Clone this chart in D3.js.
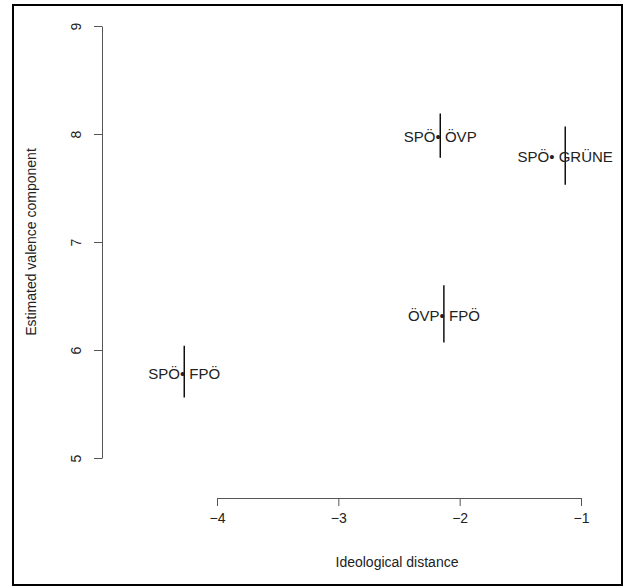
<html>
<head>
    <meta charset="utf-8">
    <title>Valence vs ideological distance</title>
    <style>
        body { margin: 0; background: #fff; }
        text { font-family: "Liberation Sans", Arial, sans-serif; }
    </style>
</head>
<body>

<script src="https://cdn.jsdelivr.net/npm/d3@7"></script>
<script>
    var width = 633;
    var height = 587;

    // party pairs, point estimates and interval ends
    var pairs = ["SPÖ• FPÖ", "ÖVP• FPÖ", "SPÖ• ÖVP", "SPÖ• GRÜNE"];
    var distance = [-4.27, -2.13, -2.16, -1.13];
    var valence = [5.78, 6.32, 7.97, 7.79];
    var lower = [5.56, 6.07, 7.78, 7.53];
    var upper = [6.04, 6.60, 8.19, 8.07];

    var xTicks = [-4, -3, -2, -1];
    var yTicks = [5, 6, 7, 8, 9];

    var svg = d3.select('body')
            .append('svg')
            .attr('width', width)
            .attr('height', height);

    // outer frame
    svg.append('rect')
            .attr('x', 13).attr('y', 5)
            .attr('width', 609).attr('height', 580)
            .attr('fill', 'none')
            .attr('stroke', '#000')
            .attr('stroke-width', 2);

    var x = d3.scaleLinear().domain([-4, -1]).range([217, 581]);
    var y = d3.scaleLinear().domain([5, 9]).range([458, 26]);

    var xAxis = svg.append('g')
            .attr('transform', 'translate(0,498)')
            .call(d3.axisBottom(x).tickValues(xTicks).tickSize(8).tickSizeOuter(0)
                .tickFormat(function (d) { return '\u2212' + Math.abs(d); }));
    xAxis.selectAll('text').attr('y', 20).attr('dy', '0.35em');

    var yAxis = svg.append('g')
            .attr('transform', 'translate(102,0)')
            .call(d3.axisLeft(y).tickValues(yTicks).tickSize(8).tickSizeOuter(0)
                .tickFormat(d3.format('d')));
    yAxis.selectAll('text')
            .attr('x', null).attr('dy', '0.35em')
            .attr('text-anchor', 'middle')
            .attr('transform', 'translate(-26,0) rotate(-90)');

    svg.selectAll('.domain, .tick line').attr('stroke', '#555');
    svg.selectAll('.tick text').attr('fill', '#222').style('font-size', '14px')
            .style('font-family', '"Liberation Sans", Arial, sans-serif');

    // axis titles
    svg.append('text')
            .attr('x', 397).attr('y', 562)
            .attr('dy', '0.35em')
            .attr('text-anchor', 'middle')
            .attr('fill', '#222')
            .style('font-size', '14px')
            .text('Ideological distance');

    svg.append('text')
            .attr('transform', 'translate(31,242) rotate(-90)')
            .attr('dy', '0.35em')
            .attr('text-anchor', 'middle')
            .attr('fill', '#222')
            .style('font-size', '14px')
            .text('Estimated valence component');

    // interval lines
    svg.selectAll('line.ci')
            .data(pairs)
            .enter()
            .append('line')
            .attr('class', 'ci')
            .attr('x1', function (d, i) { return x(distance[i]); })
            .attr('x2', function (d, i) { return x(distance[i]); })
            .attr('y1', function (d, i) { return y(lower[i]); })
            .attr('y2', function (d, i) { return y(upper[i]); })
            .attr('stroke', '#000')
            .attr('stroke-width', 1.4);

    // pair labels centred on the estimate
    svg.selectAll('text.pair')
            .data(pairs)
            .enter()
            .append('text')
            .attr('class', 'pair')
            .attr('x', function (d, i) { return x(distance[i]); })
            .attr('y', function (d, i) { return y(valence[i]); })
            .attr('dy', '0.35em')
            .attr('text-anchor', 'middle')
            .attr('fill', '#222')
            .style('font-size', '15px')
            .text(function (d) { return d; });
</script>
</body>
</html>
